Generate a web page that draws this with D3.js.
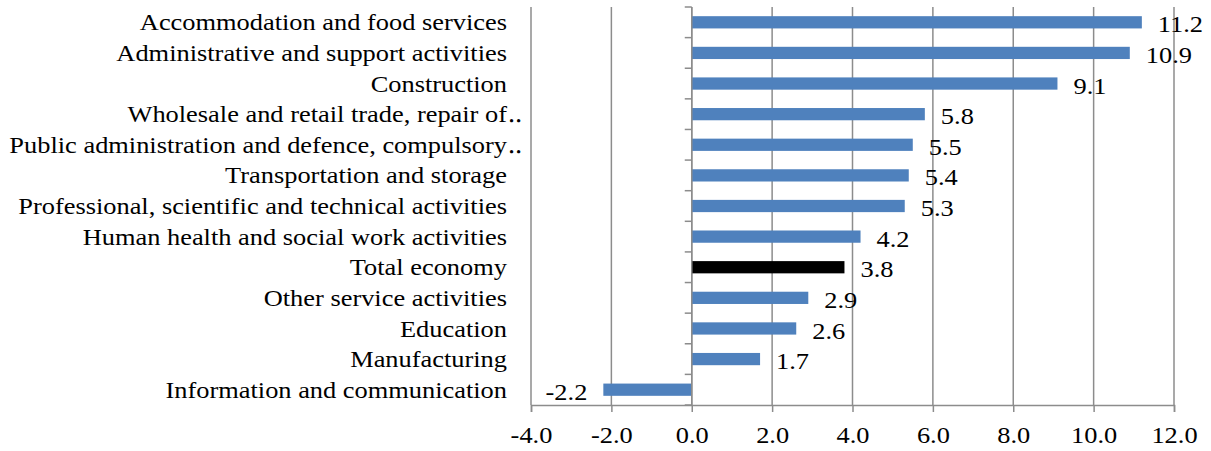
<!DOCTYPE html>
<html>
<head>
<meta charset="utf-8">
<script src="https://cdn.jsdelivr.net/npm/d3@7"></script>
<style>
  html, body { margin: 0; padding: 0; background: #fff; }
  svg text { font-family: "Liberation Serif", "Times New Roman", Times, serif; fill: #000; }
</style>
</head>
<body>
<svg id="chart" width="1211" height="451"></svg>
<script>
const categories = [
  "Accommodation and food services",
  "Administrative and support activities",
  "Construction",
  "Wholesale and retail trade, repair of‥",
  "Public administration and defence, compulsory‥",
  "Transportation and storage",
  "Professional, scientific and technical activities",
  "Human health and social work activities",
  "Total economy",
  "Other service activities",
  "Education",
  "Manufacturing",
  "Information and communication"
];
const values = [11.2, 10.9, 9.1, 5.8, 5.5, 5.4, 5.3, 4.2, 3.8, 2.9, 2.6, 1.7, -2.2];
const highlight = ["Total economy"];
const xTicks = [-4, -2, 0, 2, 4, 6, 8, 10, 12];

(function () {
const svg = d3.select("#chart");
const mLeft = 531, mRight = 1174, mTop = 7, mBottom = 405;
const fontSize = 24;
const sx = 1.1; // horizontal stretch of the reference typeface
const fmt = v => d3.format(".1f")(v).replace("\u2212", "-");

const x = d3.scaleLinear().domain([-4, 12]).range([mLeft, mRight]);
const y = d3.scaleBand().domain(categories).range([mTop, mBottom]).paddingInner(0.6).paddingOuter(0.3);
const yb = d3.scaleBand().domain(categories).range([mTop, mBottom]);

function label(g, tx, ty, anchor, str) {
  return g.append("text")
    .attr("transform", `translate(${tx},${ty}) scale(${sx},1)`)
    .attr("text-anchor", anchor).attr("dominant-baseline", "central")
    .attr("font-size", fontSize).text(str);
}

// gridlines
svg.append("g").selectAll("line").data(xTicks).join("line")
  .attr("x1", d => x(d)).attr("x2", d => x(d))
  .attr("y1", mTop).attr("y2", mBottom)
  .attr("stroke", "#8c8c8c").attr("stroke-width", 1.5);

// bars
svg.append("g").selectAll("rect").data(categories).join("rect")
  .attr("x", (d, i) => x(Math.min(0, values[i])))
  .attr("width", (d, i) => Math.abs(x(values[i]) - x(0)))
  .attr("y", d => y(d))
  .attr("height", y.bandwidth())
  .attr("fill", d => highlight.includes(d) ? "#000000" : "#4f81bd");

// x axis
const xAxis = d3.axisBottom(x).tickValues(xTicks).tickSize(7).tickPadding(12)
  .tickFormat(fmt);
const gx = svg.append("g").attr("transform", `translate(0,${mBottom})`).call(xAxis);
gx.attr("font-family", null);
gx.select(".domain").attr("stroke", "#8c8c8c").attr("stroke-width", 1.5);
gx.selectAll(".tick line").attr("stroke", "#8c8c8c").attr("stroke-width", 1.5);
gx.selectAll(".tick text").attr("font-size", fontSize).attr("fill", "#000")
  .attr("transform", `scale(${sx},1)`).attr("dy", "0.78em");

// y axis at zero (ticks between categories)
const ya = svg.append("g");
ya.append("line").attr("x1", x(0)).attr("x2", x(0)).attr("y1", mTop).attr("y2", mBottom)
  .attr("stroke", "#8c8c8c").attr("stroke-width", 1.5);
const bounds = categories.map(c => yb(c)).concat([mBottom]);
ya.selectAll("line.tk").data(bounds).join("line").attr("class", "tk")
  .attr("x1", x(0) - 7).attr("x2", x(0))
  .attr("y1", d => d).attr("y2", d => d)
  .attr("stroke", "#8c8c8c").attr("stroke-width", 1.5);

// category labels
const labelX = 507;
const lab = svg.append("g");
categories.forEach((c) => {
  const cy = yb(c) + yb.bandwidth() / 2;
  const trunc = c.endsWith("‥");
  const main = trunc ? c.slice(0, -1) : c;
  label(lab, labelX, cy, "end", main);
  if (trunc) label(lab, labelX + 1, cy, "start", "‥");
});

// value labels
const vl = svg.append("g");
categories.forEach((c, i) => {
  const v = values[i];
  const cy = yb(c) + yb.bandwidth() / 2 + 2;
  if (v >= 0) label(vl, x(v) + 16, cy, "start", fmt(v));
  else label(vl, x(v) - 16, cy, "end", fmt(v));
});
})();
</script>
</body>
</html>
